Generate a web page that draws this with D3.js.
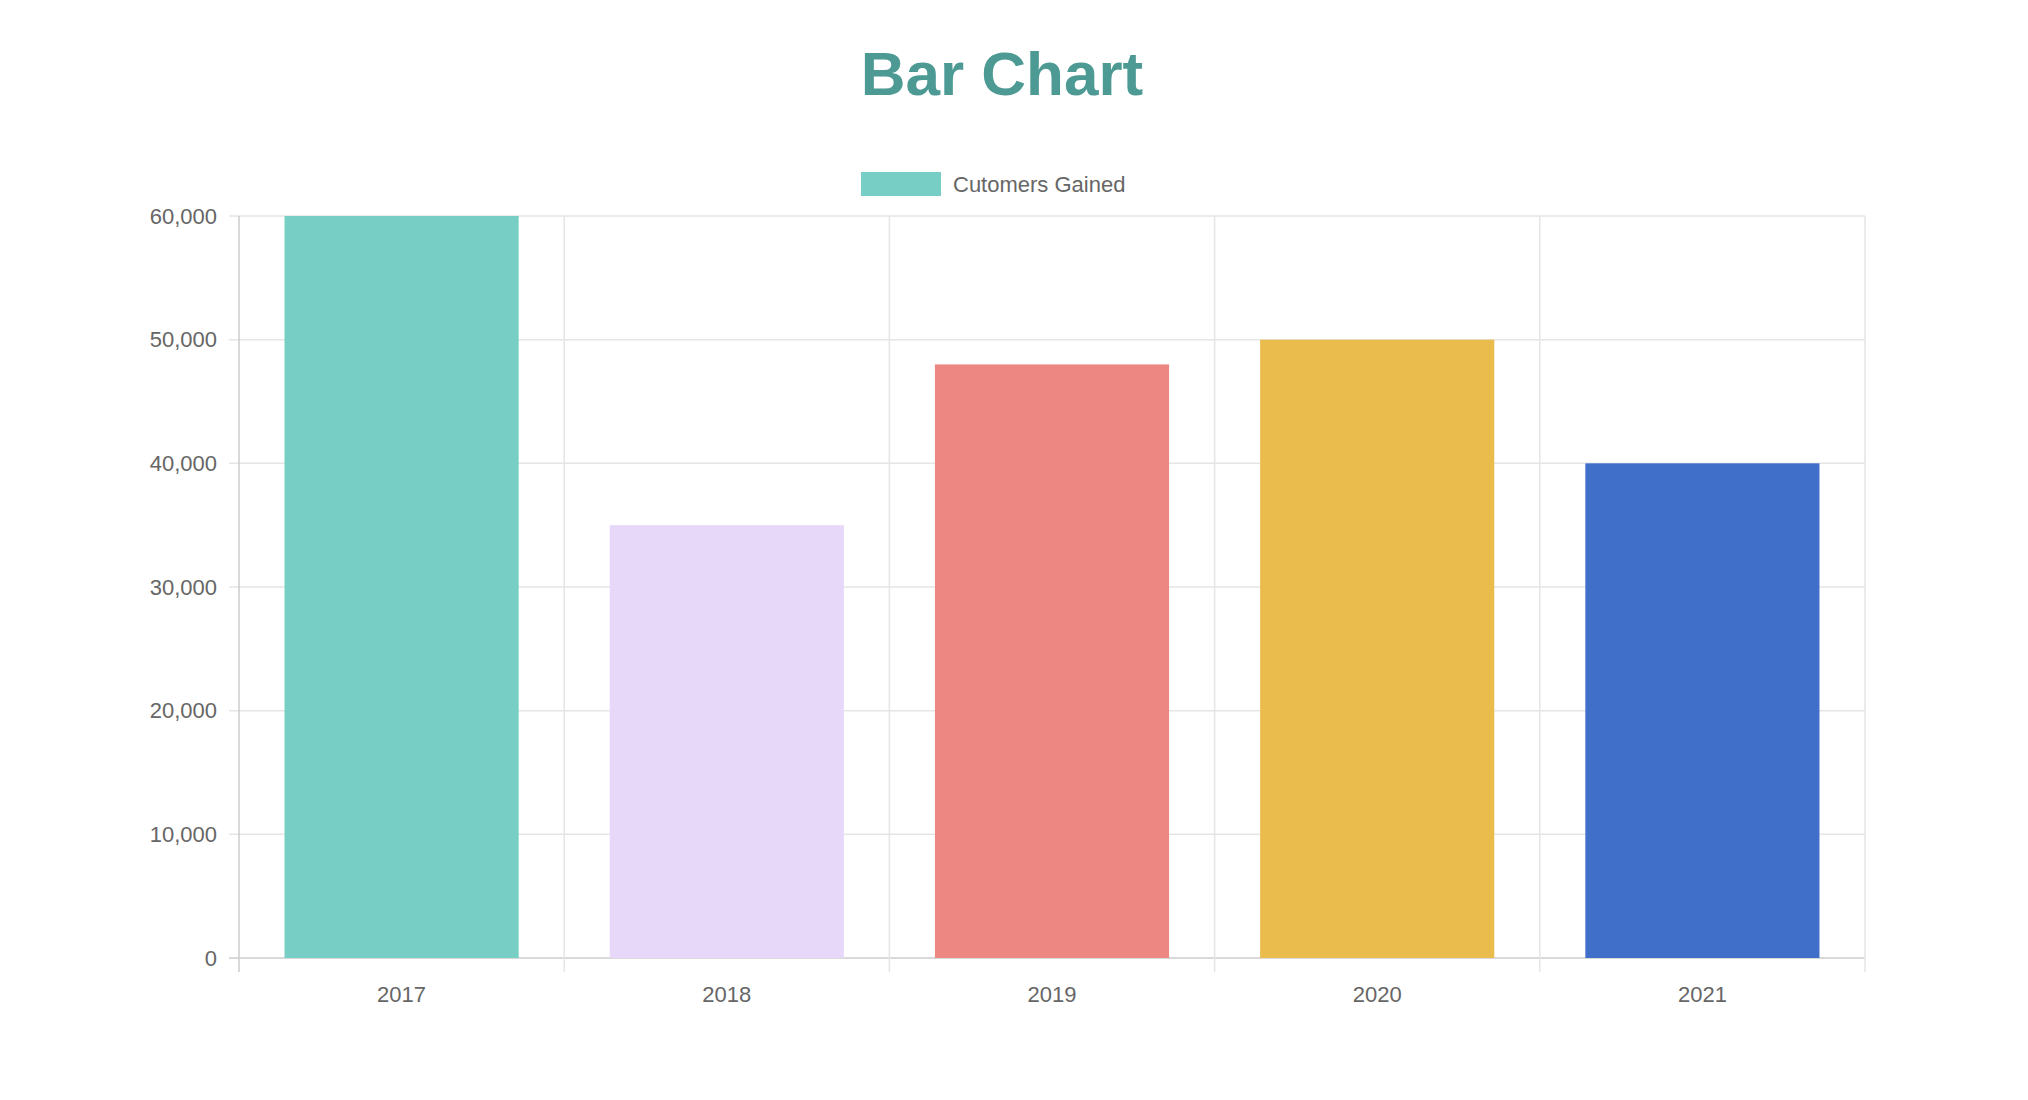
<!DOCTYPE html><html><head><meta charset="utf-8"><script src="https://cdn.jsdelivr.net/npm/d3@7"></script>
<style>body{margin:0;background:#fff}text{font-family:"Liberation Sans",Arial,sans-serif}</style></head><body><svg id="c" width="2028" height="1100"></svg>
<script>
const categories=["2017","2018","2019","2020","2021"];
const values=[60000,35000,48000,50000,40000];
const colors=["#76cec4","#e7d8fa","#ec8781","#eabc4d","#3f6fc9"];
const yTicks=[0,10000,20000,30000,40000,50000,60000];
const svg=d3.select("#c");
const L=239,R=1865,T=216,B=958;
const x=d3.scaleBand().domain(categories).range([L,R]);
const y=d3.scaleLinear().domain([0,60000]).range([B,T]);
svg.append("text").attr("x",1002).attr("y",95).attr("text-anchor","middle").attr("font-size",62).attr("font-weight","bold").attr("fill","#4d9a94").text("Bar Chart");
// grid
yTicks.forEach(t=>svg.append("line").attr("x1",L-10).attr("x2",R).attr("y1",y(t)).attr("y2",y(t)).attr("stroke",t===0?"#ccc":"#e5e5e5").attr("stroke-width",1.5));
const xs=categories.map(c=>x(c)).concat([R]);
xs.forEach((v,i)=>svg.append("line").attr("x1",v).attr("x2",v).attr("y1",T).attr("y2",B+14).attr("stroke",i===0?"#ccc":"#e5e5e5").attr("stroke-width",1.5));
const bw=x.bandwidth()*0.72;
svg.selectAll("rect.b").data(values).join("rect").attr("x",(d,i)=>x(categories[i])+(x.bandwidth()-bw)/2).attr("width",bw).attr("y",d=>y(d)).attr("height",d=>B-y(d)).attr("fill",(d,i)=>colors[i]);
const fmt=d3.format(",");
yTicks.forEach(t=>svg.append("text").attr("x",217).attr("y",y(t)).attr("dy","0.35em").attr("text-anchor","end").attr("font-size",22).attr("fill","#666").text(fmt(t)));
categories.forEach(c=>svg.append("text").attr("x",x(c)+x.bandwidth()/2).attr("y",1002).attr("text-anchor","middle").attr("font-size",22).attr("fill","#666").text(c));
svg.append("rect").attr("x",861).attr("y",172).attr("width",80).attr("height",24).attr("fill",colors[0]);
svg.append("text").attr("x",953).attr("y",184).attr("dy","0.35em").attr("font-size",22).attr("fill","#666").text("Cutomers Gained");
</script></body></html>
